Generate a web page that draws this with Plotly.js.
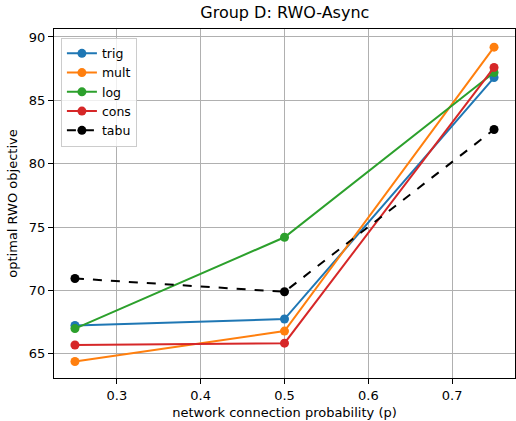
<!DOCTYPE html>
<html>
<head>
<meta charset="utf-8">
<script src="https://cdn.plot.ly/plotly-3.0.1.min.js"></script>
<style>html,body{margin:0;padding:0;background:#fff;}</style>
</head>
<body>
<div id="chart" style="width:516px;height:421px;"></div>
<script>
const probs = [0.25, 0.5, 0.75];
const seriesNames = ["trig", "mult", "log", "cons", "tabu"];
const trig = [67.25, 67.75, 86.8];
const mult = [64.4, 66.8, 89.2];
const logv = [67.0, 74.2, 87.2];
const cons = [65.7, 65.85, 87.6];
const tabu = [70.95, 69.9, 82.7];
const yTicks = [65, 70, 75, 80, 85, 90];
const xTicks = [0.3, 0.4, 0.5, 0.6, 0.7];

const colors = ["#1f77b4", "#ff7f0e", "#2ca02c", "#d62728", "#000000"];
const values = [trig, mult, logv, cons, tabu];
const traces = values.map((v, i) => ({
  x: probs, y: v, name: seriesNames[i], type: "scatter", mode: "lines+markers",
  line: {color: colors[i], width: 2, dash: i === 4 ? "dash" : "solid"},
  marker: {color: colors[i], size: 9}
}));

const layout = {
  width: 516, height: 421,
  margin: {l: 54, r: 1, t: 29, b: 43},
  paper_bgcolor: "#fff", plot_bgcolor: "#fff",
  font: {family: "DejaVu Sans", size: 13, color: "#000"},
  title: {text: "Group D: RWO-Async", x: 0.552, xanchor: "center", y: 0.985, yanchor: "top", font: {size: 16}},
  xaxis: {
    range: [0.225, 0.775], tickvals: xTicks, ticktext: xTicks.map(String),
    showgrid: true, gridcolor: "#b0b0b0", gridwidth: 1,
    showline: true, linecolor: "#000", linewidth: 1, mirror: true,
    ticks: "outside", ticklen: 5, tickcolor: "#000", zeroline: false,
    title: {text: "network connection probability (p)", standoff: 6, font: {size: 13}}
  },
  yaxis: {
    range: [63.1, 90.63], tickvals: yTicks, ticktext: yTicks.map(String),
    showgrid: true, gridcolor: "#b0b0b0", gridwidth: 1,
    showline: true, linecolor: "#000", linewidth: 1, mirror: true,
    ticks: "outside", ticklen: 5, tickcolor: "#000", zeroline: false,
    title: {text: "optimal RWO objective", standoff: 8, font: {size: 13}}
  },
  legend: {
    x: 0.015, y: 0.975, xanchor: "left", yanchor: "top",
    bgcolor: "rgba(255,255,255,0.8)", bordercolor: "#cccccc", borderwidth: 1,
    font: {size: 12.5}, tracegroupgap: 0, itemwidth: 30
  },
  showlegend: true
};
Plotly.newPlot("chart", traces, layout, {displayModeBar: false, staticPlot: true});
</script>
</body>
</html>
